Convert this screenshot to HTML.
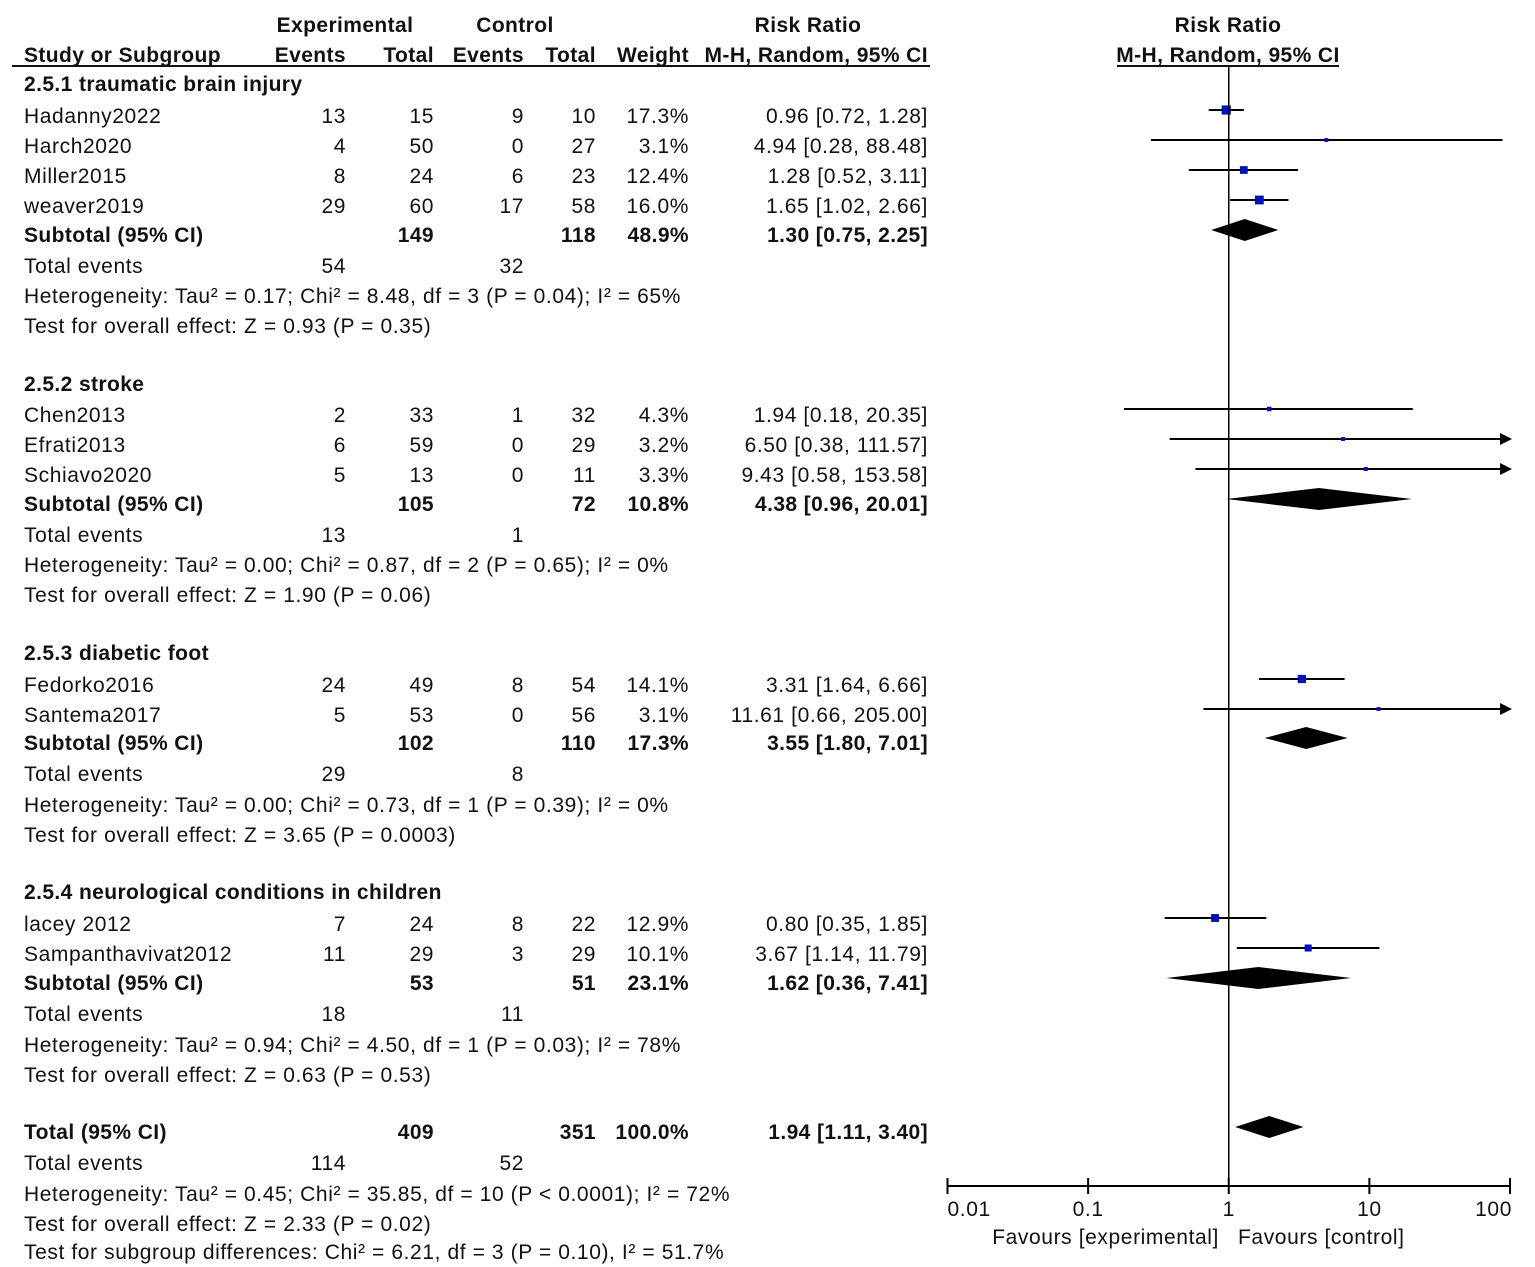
<!DOCTYPE html>
<html><head><meta charset="utf-8"><style>
html,body{margin:0;padding:0;background:#fff}
svg{display:block}
text{font-family:"Liberation Sans",Arial,sans-serif;font-size:21px;fill:#111;letter-spacing:0.6px}
.b{font-weight:bold;letter-spacing:0.4px}
</style></head><body>
<svg id="chart" width="1535" height="1267" viewBox="0 0 1535 1267" xmlns="http://www.w3.org/2000/svg">
<g id="hdr">
<text x="345" y="32" text-anchor="middle" class="b">Experimental</text>
<text x="515" y="32" text-anchor="middle" class="b">Control</text>
<text x="808" y="32" text-anchor="middle" class="b">Risk Ratio</text>
<text x="1228" y="32" text-anchor="middle" class="b">Risk Ratio</text>
<text x="24" y="62" class="b">Study or Subgroup</text>
<text x="346" y="62" text-anchor="end" class="b">Events</text>
<text x="434" y="62" text-anchor="end" class="b">Total</text>
<text x="524" y="62" text-anchor="end" class="b">Events</text>
<text x="596" y="62" text-anchor="end" class="b">Total</text>
<text x="689" y="62" text-anchor="end" class="b">Weight</text>
<text x="928" y="62" text-anchor="end" class="b">M-H, Random, 95% CI</text>
<text x="1228" y="62" text-anchor="middle" class="b">M-H, Random, 95% CI</text>
<line x1="12" y1="66" x2="930" y2="66" stroke="#111" stroke-width="2"/>
<line x1="1117" y1="66" x2="1339" y2="66" stroke="#111" stroke-width="2"/>
</g>
<g id="rows"></g>
<g id="plot"></g>
</svg>
<script>
// study-level data
const studyNames=["Hadanny2022","Harch2020","Miller2015","weaver2019","Chen2013","Efrati2013","Schiavo2020","Fedorko2016","Santema2017","lacey 2012","Sampanthavivat2012"];
const studyRowY=[116,146,176,206,415,445,475,685,715,924,954];
const expEvents=[13,4,8,29,2,6,5,24,5,7,11];
const expTotal=[15,50,24,60,33,59,13,49,53,24,29];
const ctlEvents=[9,0,6,17,1,0,0,8,0,8,3];
const ctlTotal=[10,27,23,58,32,29,11,54,56,22,29];
const weights=[17.3,3.1,12.4,16.0,4.3,3.2,3.3,14.1,3.1,12.9,10.1];
const rr=[0.96,4.94,1.28,1.65,1.94,6.50,9.43,3.31,11.61,0.80,3.67];
const lo=[0.72,0.28,0.52,1.02,0.18,0.38,0.58,1.64,0.66,0.35,1.14];
const hi=[1.28,88.48,3.11,2.66,20.35,111.57,153.58,6.66,205.00,1.85,11.79];
// subtotal data
const subLabels=["Subtotal (95% CI)","Subtotal (95% CI)","Subtotal (95% CI)","Subtotal (95% CI)","Total (95% CI)"];
const subRowY=[235,504,743,983,1132];
const subExpTotal=[149,105,102,53,409];
const subCtlTotal=[118,72,110,51,351];
const subWeight=["48.9%","10.8%","17.3%","23.1%","100.0%"];
const subRR=[1.30,4.38,3.55,1.62,1.94];
const subLo=[0.75,0.96,1.80,0.36,1.11];
const subHi=[2.25,20.01,7.01,7.41,3.40];
const subExpEvents=[54,13,29,18,114];
const subCtlEvents=[32,1,8,11,52];
const headings=["2.5.1 traumatic brain injury","2.5.2 stroke","2.5.3 diabetic foot","2.5.4 neurological conditions in children"];
const headingY=[84,384,653,892];
const notes=["Heterogeneity: Tau² = 0.17; Chi² = 8.48, df = 3 (P = 0.04); I² = 65%","Test for overall effect: Z = 0.93 (P = 0.35)",
"Heterogeneity: Tau² = 0.00; Chi² = 0.87, df = 2 (P = 0.65); I² = 0%","Test for overall effect: Z = 1.90 (P = 0.06)",
"Heterogeneity: Tau² = 0.00; Chi² = 0.73, df = 1 (P = 0.39); I² = 0%","Test for overall effect: Z = 3.65 (P = 0.0003)",
"Heterogeneity: Tau² = 0.94; Chi² = 4.50, df = 1 (P = 0.03); I² = 78%","Test for overall effect: Z = 0.63 (P = 0.53)",
"Heterogeneity: Tau² = 0.45; Chi² = 35.85, df = 10 (P < 0.0001); I² = 72%","Test for overall effect: Z = 2.33 (P = 0.02)",
"Test for subgroup differences: Chi² = 6.21, df = 3 (P = 0.10), I² = 51.7%"];
const noteY=[296,326,565,595,805,835,1045,1075,1194,1224,1252];
const tickVals=[0.01,0.1,1,10,100];
const tickLabels=["0.01","0.1","1","10","100"];

const NS="http://www.w3.org/2000/svg";
const rows=document.getElementById('rows'), plot=document.getElementById('plot');
const X0=947.5,X1=1510,AXY=1186;
function xs(v){return X0+(Math.log10(v)+2)/4*(X1-X0);}
function mk(tag,attrs,parent){const e=document.createElementNS(NS,tag);for(const k in attrs)e.setAttribute(k,attrs[k]);parent.appendChild(e);return e;}
function txt(s,x,y,anchor,bold,parent){const e=mk('text',{x:x,y:y+7,'text-anchor':anchor},parent);if(bold)e.setAttribute('class','b');e.textContent=s;return e;}
const f2=v=>v.toFixed(2);

headings.forEach((h,i)=>{const t=txt(h,24,headingY[i],'start',true,rows);

});

studyNames.forEach((n,i)=>{const y=studyRowY[i];
const g=mk('g',{},rows);


txt(n,24,y,'start',false,g);txt(String(expEvents[i]),346,y,'end',false,g);txt(String(expTotal[i]),434,y,'end',false,g);
txt(String(ctlEvents[i]),524,y,'end',false,g);txt(String(ctlTotal[i]),596,y,'end',false,g);
txt(weights[i].toFixed(1)+'%',689,y,'end',false,g);
txt(f2(rr[i])+' ['+f2(lo[i])+', '+f2(hi[i])+']',928,y,'end',false,g);
const py=y-6;const xl=xs(Math.max(lo[i],0.01)),xh=xs(Math.min(hi[i],100));
const ln=mk('line',{x1:xl,y1:py,x2:xh,y2:py,stroke:'#000','stroke-width':2},plot);


if(hi[i]>100){const a=mk('polygon',{points:(X1+2)+','+py+' '+(X1-10)+','+(py-6)+' '+(X1-10)+','+(py+6),fill:'#000'},plot);

}
const s=Math.max(2.5,Math.sqrt(weights[i])*2.2);
const sq=mk('rect',{x:xs(rr[i])-s/2,y:py-s/2,width:s,height:s,fill:'#0010c0'},plot);


});

subLabels.forEach((l,i)=>{const y=subRowY[i];
const g=mk('g',{},rows);


txt(l,24,y,'start',true,g);txt(String(subExpTotal[i]),434,y,'end',true,g);txt(String(subCtlTotal[i]),596,y,'end',true,g);
txt(subWeight[i],689,y,'end',true,g);txt(f2(subRR[i])+' ['+f2(subLo[i])+', '+f2(subHi[i])+']',928,y,'end',true,g);
const ey=y+31;
const g2=mk('g',{},rows);


txt('Total events',24,ey,'start',false,g2);txt(String(subExpEvents[i]),346,ey,'end',false,g2);txt(String(subCtlEvents[i]),524,ey,'end',false,g2);
const py=y-5,h=11;
const d=mk('polygon',{points:xs(subLo[i])+','+py+' '+xs(subRR[i])+','+(py-h)+' '+xs(subHi[i])+','+py+' '+xs(subRR[i])+','+(py+h),fill:'#000'},plot);


});

notes.forEach((n,i)=>{const t=txt(n,24,noteY[i],'start',false,rows);

});

const ref=mk('line',{x1:xs(1),y1:66,x2:xs(1),y2:AXY,stroke:'#000','stroke-width':1.5},plot);


const ax=mk('line',{x1:X0,y1:AXY,x2:X1,y2:AXY,stroke:'#000','stroke-width':2},plot);


tickVals.forEach((v,i)=>{const x=xs(v);
const t=mk('line',{x1:x,y1:AXY-8,x2:x,y2:AXY+8,stroke:'#000','stroke-width':2},plot);


const anc=i==0?'start':(i==tickVals.length-1?'end':'middle');
const lb=txt(tickLabels[i],i==0?x:(i==tickVals.length-1?x+2:x),1209,anc,false,plot);

});
const fe=txt('Favours [experimental]',1219,1237,'end',false,plot);


const fc=txt('Favours [control]',1238,1237,'start',false,plot);


</script>
</body></html>
